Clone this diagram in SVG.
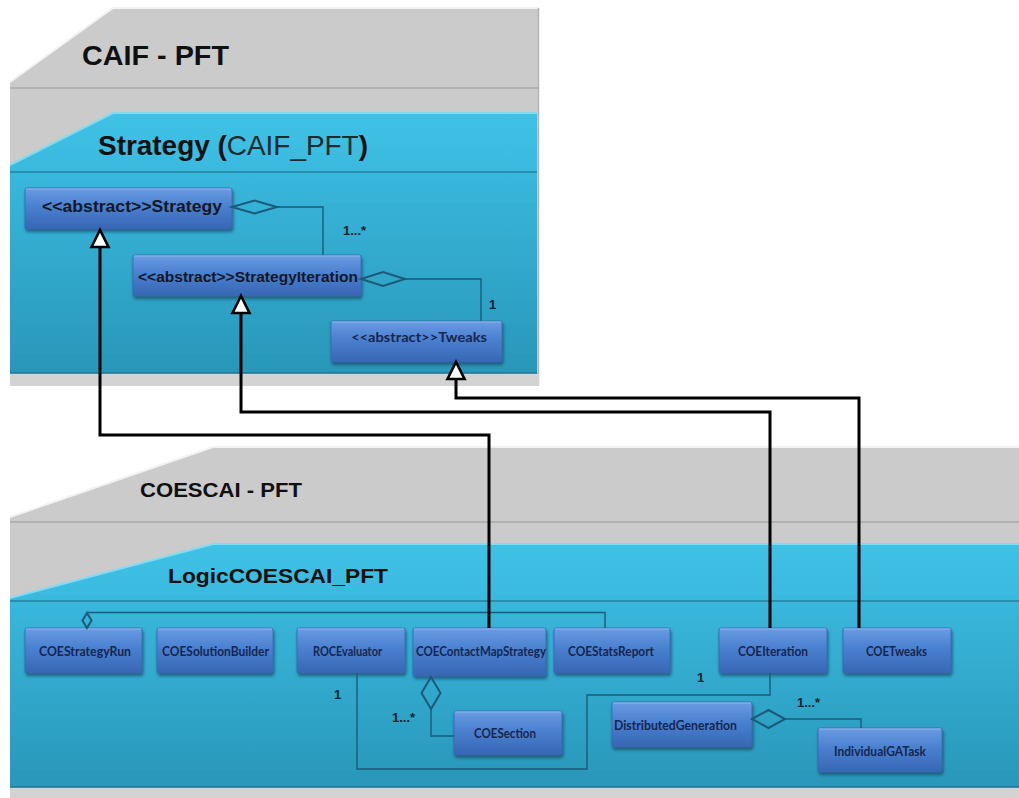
<svg xmlns="http://www.w3.org/2000/svg" width="1019" height="798" viewBox="0 0 1019 798">
  <style>
    .pkg-gray { fill: #cbcbcb; }
    .pkg-sep { stroke: #a9a9a9; stroke-width: 1.5; fill: none; }
    .pkg-hi { stroke: #f2f2f2; stroke-width: 2; fill: none; }
    .cyan-hi { stroke: #7fdcf3; stroke-width: 2; fill: none; }
    .cyan-sep { stroke: #23809f; stroke-width: 1.5; fill: none; }
    .strip { fill: #d3d3d3; }
    .pkg-title { font-family: "Liberation Sans", Arial, sans-serif; font-weight: bold; fill: #101010; }
    .box { fill: url(#boxGrad); stroke: #3a67ad; stroke-width: 0.8; filter: url(#shadow); }
    .box-hi { stroke: #8db5ee; stroke-width: 1.2; fill: none; }
    .t-top { font-family: "Liberation Sans", Arial, sans-serif; font-weight: bold; fill: #131826; text-anchor: middle; }
    .t-low { font-family: Lato, "Open Sans", sans-serif; font-weight: bold; font-size: 14px; fill: #15264f; text-anchor: middle; }
    .mult { font-family: "Liberation Sans", Arial, sans-serif; font-weight: bold; font-size: 13px; fill: #14202c; }
    .assoc { stroke: #1b5a78; stroke-width: 1.4; fill: none; }
    .diamond { stroke: #1b5a78; stroke-width: 2; fill: none; stroke-linejoin: miter; }
    .gen { stroke: #000; stroke-width: 3; fill: none; stroke-linejoin: miter; marker-end: url(#hollowTri); }
  </style>
  <defs>
    <linearGradient id="boxGrad" x1="0" y1="0" x2="0" y2="1">
      <stop offset="0" stop-color="#6a9ce2"/>
      <stop offset="0.45" stop-color="#4a80d0"/>
      <stop offset="1" stop-color="#3766b4"/>
    </linearGradient>
    <linearGradient id="cyanTop" x1="0" y1="0" x2="0" y2="1">
      <stop offset="0" stop-color="#3fc2e6"/>
      <stop offset="1" stop-color="#3ab9de"/>
    </linearGradient>
    <linearGradient id="cyanBody" x1="0" y1="0" x2="0" y2="1">
      <stop offset="0" stop-color="#39b7dc"/>
      <stop offset="1" stop-color="#2897b9"/>
    </linearGradient>
    <filter id="shadow" x="-10%" y="-20%" width="125%" height="160%">
      <feDropShadow dx="1" dy="2.5" stdDeviation="1.5" flood-color="#10344f" flood-opacity="0.65"/>
    </filter>
    <marker id="hollowTri" markerUnits="userSpaceOnUse" markerWidth="24" markerHeight="24" viewBox="-3 -12 24 24" refX="0" refY="0" orient="auto">
      <path d="M0,-8.5 L17,0 L0,8.5 Z" fill="#fff" stroke="#000" stroke-width="2.6" stroke-linejoin="miter"/>
    </marker>
  </defs>

  <rect width="1019" height="798" fill="#ffffff"/>

  <!-- Package CAIF - PFT -->
  <g id="pkg-caif">
    <polygon class="pkg-gray" points="10,82 113,8 539,8 539,386 10,386"/>
    <polyline class="pkg-hi" points="10,82 113,8 539,8"/>
    <line x1="538.5" y1="8" x2="538.5" y2="386" stroke="#b5b5b5" stroke-width="1.5"/>
    <line class="pkg-sep" x1="10" y1="88" x2="539" y2="88"/>
    <text class="pkg-title" x="82" y="65" font-size="28.5" textLength="147" lengthAdjust="spacingAndGlyphs">CAIF - PFT</text>
  </g>

  <!-- Package Strategy (CAIF_PFT) -->
  <g id="pkg-strategy">
    <polygon fill="url(#cyanTop)" points="10,165 113,113 537,113 537,172 10,172"/>
    <rect x="10" y="172" width="527" height="201" fill="url(#cyanBody)"/>
    <polyline class="cyan-hi" points="10,165 113,113 537,113"/>
    <line class="cyan-sep" x1="10" y1="172" x2="537" y2="172"/>
    <line x1="10" y1="373" x2="537" y2="373" stroke="#1f7592" stroke-width="1.5"/>
    <rect class="strip" x="10" y="374" width="529" height="12"/>
    <text class="pkg-title" x="98" y="155" font-size="27.5" textLength="270" lengthAdjust="spacingAndGlyphs">Strategy (<tspan font-weight="normal" fill="#1e2a30">CAIF_PFT</tspan>)</text>
  </g>

  <!-- Package COESCAI - PFT -->
  <g id="pkg-coescai">
    <polygon class="pkg-gray" points="10,517 213,447 1019,447 1019,798 10,798"/>
    <polyline class="pkg-hi" points="10,517 213,447 1019,447"/>
    <line class="pkg-sep" x1="10" y1="522" x2="1019" y2="522"/>
    <text class="pkg-title" x="140" y="497" font-size="20.5" textLength="162" lengthAdjust="spacingAndGlyphs">COESCAI - PFT</text>
  </g>

  <!-- Package LogicCOESCAI_PFT -->
  <g id="pkg-logic">
    <polygon fill="url(#cyanTop)" points="10,598 213,544 1019,544 1019,601 10,601"/>
    <rect x="10" y="601" width="1009" height="186" fill="url(#cyanBody)"/>
    <polyline class="cyan-hi" points="10,598 213,544 1019,544"/>
    <line class="cyan-sep" x1="10" y1="601" x2="1019" y2="601"/>
    <line x1="10" y1="787" x2="1019" y2="787" stroke="#1f7592" stroke-width="1.5"/>
    <rect class="strip" x="10" y="788" width="1009" height="10"/>
    <text class="pkg-title" x="168" y="583" font-size="21" textLength="220" lengthAdjust="spacingAndGlyphs">LogicCOESCAI_PFT</text>
  </g>

  <!-- Classes of Strategy (CAIF_PFT) -->
  <g id="node-strategy">
    <rect class="box" x="25" y="188" width="207" height="41" rx="2"/>
    <line class="box-hi" x1="26" y1="189" x2="231" y2="189"/>
    <text class="t-top" x="132" y="212" font-size="17" textLength="180" lengthAdjust="spacingAndGlyphs">&lt;&lt;abstract&gt;&gt;Strategy</text>
  </g>
  <g id="node-strategyiteration">
    <rect class="box" x="133" y="255" width="228" height="41" rx="2"/>
    <line class="box-hi" x1="134" y1="256" x2="360" y2="256"/>
    <text class="t-top" x="248" y="281.5" font-size="15.5" textLength="220" lengthAdjust="spacingAndGlyphs">&lt;&lt;abstract&gt;&gt;StrategyIteration</text>
  </g>
  <g id="node-tweaks">
    <rect class="box" x="331" y="321" width="171" height="41" rx="2"/>
    <line class="box-hi" x1="332" y1="322" x2="501" y2="322"/>
    <text class="t-low" x="419" y="342" textLength="136" lengthAdjust="spacingAndGlyphs">&lt;&lt;abstract&gt;&gt;Tweaks</text>
  </g>

  <!-- Classes of LogicCOESCAI_PFT -->
  <g id="node-coestrategyrun">
    <rect class="box" x="25" y="628" width="117" height="45" rx="2"/>
    <line class="box-hi" x1="26" y1="629" x2="141" y2="629"/>
    <text class="t-low" x="85" y="656" textLength="92" lengthAdjust="spacingAndGlyphs">COEStrategyRun</text>
  </g>
  <g id="node-coesolutionbuilder">
    <rect class="box" x="157" y="628" width="116" height="45" rx="2"/>
    <line class="box-hi" x1="158" y1="629" x2="272" y2="629"/>
    <text class="t-low" x="215.5" y="656" textLength="107" lengthAdjust="spacingAndGlyphs">COESolutionBuilder</text>
  </g>
  <g id="node-rocevaluator">
    <rect class="box" x="297" y="628" width="108" height="45" rx="2"/>
    <line class="box-hi" x1="298" y1="629" x2="404" y2="629"/>
    <text class="t-low" x="347.5" y="656" textLength="69" lengthAdjust="spacingAndGlyphs">ROCEvaluator</text>
  </g>
  <g id="node-coecontactmapstrategy">
    <rect class="box" x="413" y="628" width="133" height="48" rx="2"/>
    <line class="box-hi" x1="414" y1="629" x2="545" y2="629"/>
    <text class="t-low" x="481" y="656" textLength="130" lengthAdjust="spacingAndGlyphs">COEContactMapStrategy</text>
  </g>
  <g id="node-coestatsreport">
    <rect class="box" x="554" y="628" width="116" height="45" rx="2"/>
    <line class="box-hi" x1="555" y1="629" x2="669" y2="629"/>
    <text class="t-low" x="611" y="656" textLength="86" lengthAdjust="spacingAndGlyphs">COEStatsReport</text>
  </g>
  <g id="node-coeiteration">
    <rect class="box" x="719" y="628" width="108" height="45" rx="2"/>
    <line class="box-hi" x1="720" y1="629" x2="826" y2="629"/>
    <text class="t-low" x="773" y="656" textLength="70" lengthAdjust="spacingAndGlyphs">COEIteration</text>
  </g>
  <g id="node-coetweaks">
    <rect class="box" x="843" y="628" width="108" height="45" rx="2"/>
    <line class="box-hi" x1="844" y1="629" x2="950" y2="629"/>
    <text class="t-low" x="896.5" y="656" textLength="61" lengthAdjust="spacingAndGlyphs">COETweaks</text>
  </g>
  <g id="node-coesection">
    <rect class="box" x="454" y="711" width="108" height="44" rx="2"/>
    <line class="box-hi" x1="455" y1="712" x2="561" y2="712"/>
    <text class="t-low" x="505" y="738" textLength="62" lengthAdjust="spacingAndGlyphs">COESection</text>
  </g>
  <g id="node-distributedgeneration">
    <rect class="box" x="612" y="702" width="140" height="45" rx="2"/>
    <line class="box-hi" x1="613" y1="703" x2="751" y2="703"/>
    <text class="t-low" x="675.5" y="730" textLength="123" lengthAdjust="spacingAndGlyphs">DistributedGeneration</text>
  </g>
  <g id="node-individualgatask">
    <rect class="box" x="818" y="728" width="124" height="44" rx="2"/>
    <line class="box-hi" x1="819" y1="729" x2="941" y2="729"/>
    <text class="t-low" x="880" y="756" textLength="92" lengthAdjust="spacingAndGlyphs">IndividualGATask</text>
  </g>

  <!-- Connectors -->
  <g id="connectors">
    <!-- aggregations -->
    <polygon class="diamond" points="232,207 254.5,200.5 277,207 254.5,213.5"/>
    <path class="assoc" d="M277,207 H323 V255"/>
    <polygon class="diamond" points="361,279 383,272 405,279 383,286"/>
    <path class="assoc" d="M405,279 H481 V321"/>
    <polygon class="diamond" points="87,613 91.5,620.5 87,628 82.5,620.5"/>
    <path class="assoc" d="M87,612.5 H605 V628"/>
    <polygon class="diamond" points="431,677 440.5,693 431,709 421.5,693"/>
    <path class="assoc" d="M431,709 V736 H454"/>
    <polygon class="diamond" points="752,719 768.5,710 785,719 768.5,728"/>
    <path class="assoc" d="M785,719 H861 V728"/>
    <!-- association ROCEvaluator / COEIteration -->
    <path class="assoc" d="M357,673 V769 H587 V695 H770 V673"/>

    <!-- generalizations -->
    <path class="gen" d="M489,628 V435 H100 V247"/>
    <path class="gen" d="M770,628 V412 H241 V313"/>
    <path class="gen" d="M859,628 V398 H456 V379"/>

    <!-- multiplicities -->
    <text class="mult" x="343" y="234.5">1...*</text>
    <text class="mult" x="489" y="308.5">1</text>
    <text class="mult" x="334" y="698.5">1</text>
    <text class="mult" x="697" y="681.5">1</text>
    <text class="mult" x="392" y="721.5">1...*</text>
    <text class="mult" x="797" y="706.5">1...*</text>
  </g>
</svg>
